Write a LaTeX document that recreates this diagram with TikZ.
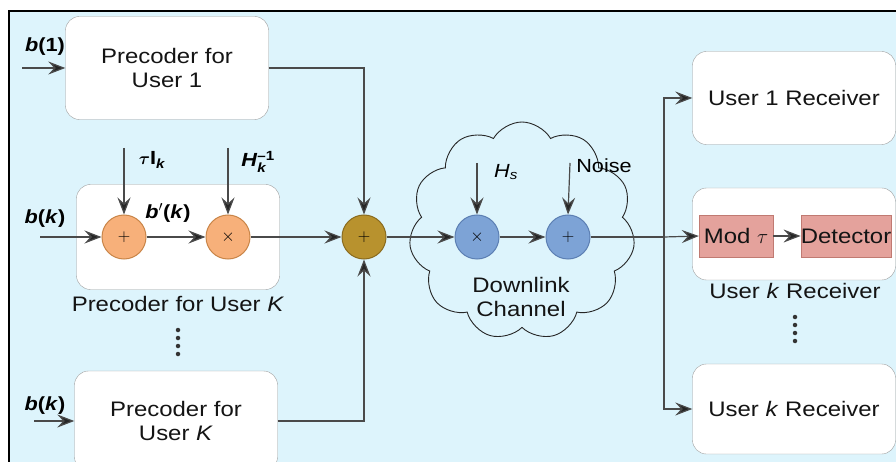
\documentclass[tikz,border=0pt]{standalone}
\usepackage{amsmath}
\usepackage{fontspec}
\setmainfont[FakeStretch=1.14]{Liberation Sans}
\usetikzlibrary{arrows.meta,shapes.symbols,calc}
\definecolor{bgc}{HTML}{DDF4FC}
\definecolor{linec}{HTML}{4A4A4A}
\definecolor{orf}{HTML}{F7B07A}
\definecolor{ord}{HTML}{C98548}
\definecolor{gof}{HTML}{B8922E}
\definecolor{god}{HTML}{8A6B1E}
\definecolor{blf}{HTML}{7DA3D6}
\definecolor{bld}{HTML}{5C7FB3}
\definecolor{pkf}{HTML}{E4A29C}
\definecolor{pkd}{HTML}{C07A72}
\begin{document}
\begin{tikzpicture}[x=1pt,y=-1pt,
  txt/.style={font=\fontsize{21}{24}\selectfont,text=black!92},
  box/.style={txt,draw=gray!75,fill=white,rounded corners=14pt,align=center,inner sep=0pt},
  opc/.style={circle,minimum size=44pt,inner sep=0pt,line width=1pt,font=\fontsize{16}{16}\selectfont},
  orc/.style={opc,fill=orf,draw=ord},
  goc/.style={opc,fill=gof,draw=god},
  blc/.style={opc,fill=blf,draw=bld},
  pbox/.style={txt,fill=pkf,draw=pkd,inner sep=0pt,minimum height=42pt},
  lab/.style={font=\fontsize{19}{21}\selectfont},
  arr/.style={draw=linec,line width=1.2pt,-{Stealth[length=17pt,width=13pt,inset=6pt,fill=black!85]}},
  ln/.style={draw=linec,line width=1.2pt},
  dotc/.style={circle,fill=black!80,inner sep=0pt,minimum size=4.5pt}]
\useasboundingbox (0,0) rectangle (896,462);
\fill[white] (0,0) rectangle (896,462);
\fill[bgc] (9,11) rectangle (897,463);
\draw[black,line width=2pt] (9,463) -- (9,11) -- (897,11);

% precoders
\node[box,minimum width=203pt,minimum height=103pt] (p1) at (167,68) {Precoder for\\User 1};
\node[box,minimum width=203pt,minimum height=105pt] (pk) at (178,237) {};
\node[box,minimum width=203pt,minimum height=100pt] (pb) at (176,421) {Precoder for\\User \textit{K}};
\node[txt] (pkl) at (178,304) {Precoder for User \textit{K}};

\node[orc] (ca) at (124,237) {$+$};
\node[orc] (cm) at (228,237) {$\times$};
\node[goc] (sg) at (364,237) {$+$};

% cloud
\node[cloud,cloud puffs=11,cloud puff arc=120,draw=black!85,line width=0.9pt,minimum width=226pt,minimum height=218pt,aspect=1] (cl) at (522,231) {};
\node[blc] (bx) at (477,237) {$\times$};
\node[blc] (bp) at (568,237) {$+$};
\node[txt,align=center] (dl) at (521,297) {Downlink\\Channel};

% receivers
\node[box,minimum width=203pt,minimum height=93pt] (r1) at (794,98) {User 1 Receiver};
\node[box,minimum width=203pt,minimum height=92pt] (rk) at (794,234) {};
\node[box,minimum width=203pt,minimum height=90pt] (rb) at (794,409) {User \textit{k} Receiver};
\node[txt] (rkl) at (795,291) {User \textit{k} Receiver};
\node[pbox,minimum width=74pt] (mod) at (736,236) {Mod $\tau$};
\node[pbox,minimum width=88pt] (det) at (846,236) {Detector};

% input coordinates
\coordinate (b1s) at (22,68);
\coordinate (bks) at (40,237);
\coordinate (bbs) at (34,421);
\coordinate (ts) at (124,148);
\coordinate (hs) at (228,148);
\coordinate (hss) at (477,163);
\coordinate (nss) at (570,163);
\coordinate (j) at (664,237);

% labels
\node[lab] (lb1) at (45,47) {\textbf{\textit{b}(1)}};
\node[lab] (lbk) at (45,219) {\textbf{\textit{b}(\textit{k})}};
\node[lab] (lbb) at (45,406) {\textbf{\textit{b}(\textit{k})}};
\node[lab] (lbp) at (168,213) {\textbf{\textit{b}$'$(\textit{k})}};
\node[lab] (lti) at (152,160) {$\boldsymbol{\tau}$\textbf{I}$_{\textit{\textbf{k}}}$};
\node[lab] (lhk) at (258,162) {\textit{\textbf{H}}$_{\textit{\textbf{k}}}^{\textbf{--1}}$};
\node[lab] (lhs) at (506,172) {\textit{H}$_{\textit{s}}$};
\node[lab] (lno) at (604,166) {Noise};

% connectors
\draw[arr] (b1s) -- (p1.west);
\draw[arr] (bks) -- (ca.west);
\draw[arr] (bbs) -- (pb.west);
\draw[arr] (ts) -- (ca.north);
\draw[arr] (hs) -- (cm.north);
\draw[arr] (ca.east) -- (cm.west);
\draw[arr] (cm.east) -- (sg.west);
\draw[arr] (p1.east) -| (sg.north);
\draw[arr] (pb.east) -| (sg.south);
\draw[arr] (sg.east) -- (bx.west);
\draw[arr] (hss) -- (bx.north);
\draw[arr] (nss) -- (bp.north);
\draw[arr] (bx.east) -- (bp.west);
\draw[ln] (bp.east) -- (j);
\draw[arr] (j) -- (mod.west);
\draw[arr] (j) |- (r1.west);
\draw[arr] (j) |- (rb.west);
\draw[arr] (mod.east) -- (det.west);

% dots
\foreach \yy [count=\i] in {330,338,346,354} \node[dotc] (da\i) at (178,\yy) {};
\foreach \yy [count=\i] in {317,325,333,341} \node[dotc] (db\i) at (795,\yy) {};
\end{tikzpicture}
\end{document}
